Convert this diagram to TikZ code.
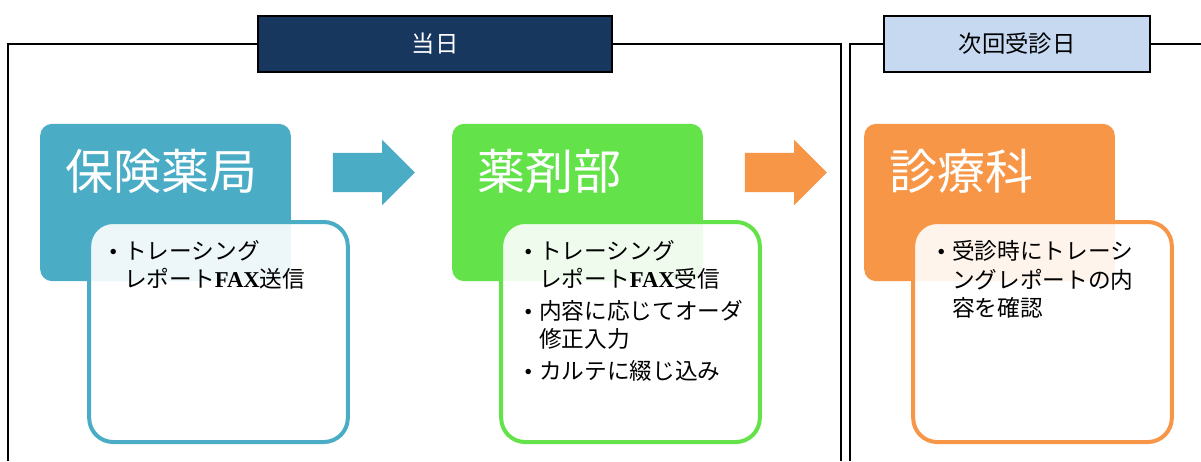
\documentclass[tikz,border=0pt]{standalone}
\usepackage{fontspec}
\setmainfont{Noto Sans CJK JP}
\newfontfamily\latserif{Liberation Serif}
\usetikzlibrary{calc}
\usetikzlibrary{shapes.arrows}
\definecolor{navy}{HTML}{17375E}
\definecolor{paleblue}{HTML}{C6D9F1}
\definecolor{tealc}{HTML}{4BACC6}
\definecolor{greenc}{HTML}{63E24A}
\definecolor{orangec}{HTML}{F79646}
\newcommand{\itm}{\makebox[0.65em][l]{\latserif •}}
\newcommand{\ind}{\hspace*{0.65em}}
\newcommand{\fax}{{\latserif\bfseries FAX}}

\begin{document}
\begin{tikzpicture}[x=0.75pt,y=-0.75pt]
		\tikzstyle{frame}=[draw=black,line width=1.5pt];
		\tikzstyle{headbox}=[rectangle,draw=black,line width=1.5pt,minimum height=42pt,
			inner sep=0pt,font=\fontsize{17.5}{20}\selectfont];
		\tikzstyle{titlebox}=[rectangle,rounded corners=9pt,inner sep=0pt,
			minimum width=188pt,minimum height=118pt,node distance=309pt];
		\tikzstyle{titletxt}=[anchor=west,inner sep=0pt,text=white,
			font=\fontsize{36}{40}\selectfont];
		\tikzstyle{listbox}=[rectangle,rounded corners=18pt,line width=3pt,
			fill=white,fill opacity=0.9,minimum width=194pt,minimum height=165pt];
		\tikzstyle{listtxt}=[anchor=north west,inner sep=0pt,align=left,
			font=\fontsize{17}{21.5}\selectfont];
		\tikzstyle{steparrow}=[single arrow,single arrow head extend=9.75pt,
			inner xsep=0pt,inner ysep=14.6pt,minimum height=61.5pt];
		\useasboundingbox (0,0) rectangle (1201,461);

		\draw[frame](8,461)--(8,44)--(841,44)--(841,461);
		\draw[frame](850,461)--(850,44)--(1201,44);
		\node[headbox,fill=navy,text=white,minimum width=266pt](h0) at (435,44){当日};
		\node[headbox,fill=paleblue,minimum width=199pt](h1) at (1017,44){次回受診日};

		\node[titlebox,fill=tealc](b0) at (165.5,202.5){};
		\node[titlebox,fill=greenc,right of=b0](b1){};
		\node[titlebox,fill=orangec,right of=b1](b2){};
		\node[titletxt](t0) at ($(b0.north west)+(25,48)$){保険薬局};
		\node[titletxt](t1) at ($(b1.north west)+(25,48)$){薬剤部};
		\node[titletxt](t2) at ($(b2.north west)+(25,48)$){診療科};

		\node[steparrow,fill=tealc](a0) at ($(b0)+(198.5,-30)$){};
		\node[steparrow,fill=orangec](a1) at ($(b1)+(198.5,-30)$){};

		\node[listbox,draw=tealc](c0) at ($(b0)+(53,129.5)$){};
		\node[listbox,draw=greenc](c1) at ($(b1)+(53,129.5)$){};
		\node[listbox,draw=orangec](c2) at ($(b2)+(53,129.5)$){};
		\node[listtxt](l0) at ($(c0.north west)+(22,20)$){\itm トレーシング\\\ind レポート\fax 送信};
		\node[listtxt](l1) at ($(c1.north west)+(25,20)$){\itm トレーシング\\\ind レポート\fax 受信\\[2pt]
			\itm 内容に応じてオーダ\\\ind 修正入力\\[2pt]
			\itm カルテに綴じ込み};
		\node[listtxt](l2) at ($(c2.north west)+(26,20)$){\itm 受診時にトレーシ\\\ind ングレポートの内\\\ind 容を確認};
	\end{tikzpicture}
\end{document}
